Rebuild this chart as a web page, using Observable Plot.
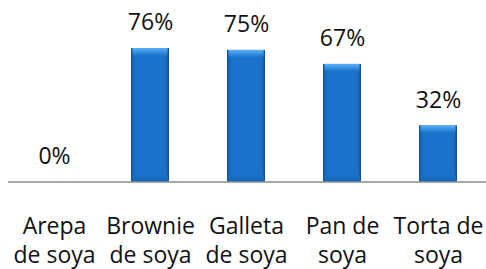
<!DOCTYPE html>
<html>
<head>
<meta charset="utf-8">
<script src="https://cdn.jsdelivr.net/npm/d3@7"></script>
<script src="https://cdn.jsdelivr.net/npm/@observablehq/plot@0.6"></script>
<style>
  html, body { margin: 0; padding: 0; background: #fff; }
  #chart { width: 486px; height: 269px; overflow: hidden; }
</style>
</head>
<body>
<div id="chart"></div>
<script>
const categories = ["Arepa de soya", "Brownie de soya", "Galleta de soya", "Pan de soya", "Torta de soya"];
const tickLabels = ["Arepa\nde soya", "Brownie\nde soya", "Galleta\nde soya", "Pan de\nsoya", "Torta de\nsoya"];
const values = [0, 76, 75, 67, 32];

const data = categories.map((c, i) => ({category: c, value: values[i], label: values[i] + "%"}));
const labelOf = new Map(categories.map((c, i) => [c, tickLabels[i]]));

const plot = Plot.plot({
  width: 486,
  height: 269,
  marginTop: 6,
  marginBottom: 87.5,
  marginLeft: 8,
  marginRight: 0,
  style: {fontFamily: "'Open Sans', sans-serif", background: "#fff"},
  x: {domain: categories, range: [6.5, 486.5], paddingInner: 0.6, paddingOuter: 0.3, label: null},
  y: {domain: [0, 100], axis: null},
  marks: [
    Plot.barY(data, {x: "category", y: "value", fill: "url(#barGrad)", filter: d => d.value > 0, style: "filter:url(#barShadow)"}),
    Plot.rectY(data, {x: "category", y1: "value", y2: "value", insetBottom: -7, insetLeft: 1.5, insetRight: 1.5, fill: "url(#bevelGrad)", filter: d => d.value > 0}),
    Plot.rectY(data, {x: "category", y1: 0, y2: 0, insetTop: -6, insetLeft: 1.5, insetRight: 1.5, fill: "url(#bottomGrad)", filter: d => d.value > 0}),
    Plot.ruleY([0], {stroke: "#8a8a8a", strokeWidth: 1.5}),
    Plot.text(data, {x: "category", y: "value", text: "label", dy: -25.5, fontSize: 23, fill: "#111"}),
    Plot.axisX({tickSize: 0, tickPadding: 31, fontSize: 23, lineHeight: 1.28, tickFormat: d => labelOf.get(d), fill: "#111", label: null})
  ]
});

const svg = d3.select(plot);
const defs = svg.insert("defs", ":first-child");
const g = defs.append("linearGradient").attr("id", "barGrad").attr("x1", "0").attr("x2", "1").attr("y1", "0").attr("y2", "0");
[["0%", "#0c4f94"], ["6%", "#1868b8"], ["14%", "#1b74cb"], ["86%", "#1b74cb"], ["94%", "#1868b8"], ["100%", "#0c4f94"]]
  .forEach(([o, c]) => g.append("stop").attr("offset", o).attr("stop-color", c));
const b = defs.append("linearGradient").attr("id", "bevelGrad").attr("x1", "0").attr("x2", "0").attr("y1", "0").attr("y2", "1");
[["0%", "#5fb0f2"], ["45%", "#3d97e6"], ["100%", "#1e78cd"]]
  .forEach(([o, c]) => b.append("stop").attr("offset", o).attr("stop-color", c));
const bb = defs.append("linearGradient").attr("id", "bottomGrad").attr("x1", "0").attr("x2", "0").attr("y1", "0").attr("y2", "1");
[["0%", "#1b74cb"], ["100%", "#1562ad"]]
  .forEach(([o, c]) => bb.append("stop").attr("offset", o).attr("stop-color", c));
const f = defs.append("filter").attr("id", "barShadow").attr("x", "-20%").attr("y", "-10%").attr("width", "140%").attr("height", "130%");
f.append("feDropShadow").attr("dx", 0).attr("dy", 2).attr("stdDeviation", 2).attr("flood-color", "#000").attr("flood-opacity", 0.3);

document.getElementById("chart").appendChild(plot);
</script>
</body>
</html>
